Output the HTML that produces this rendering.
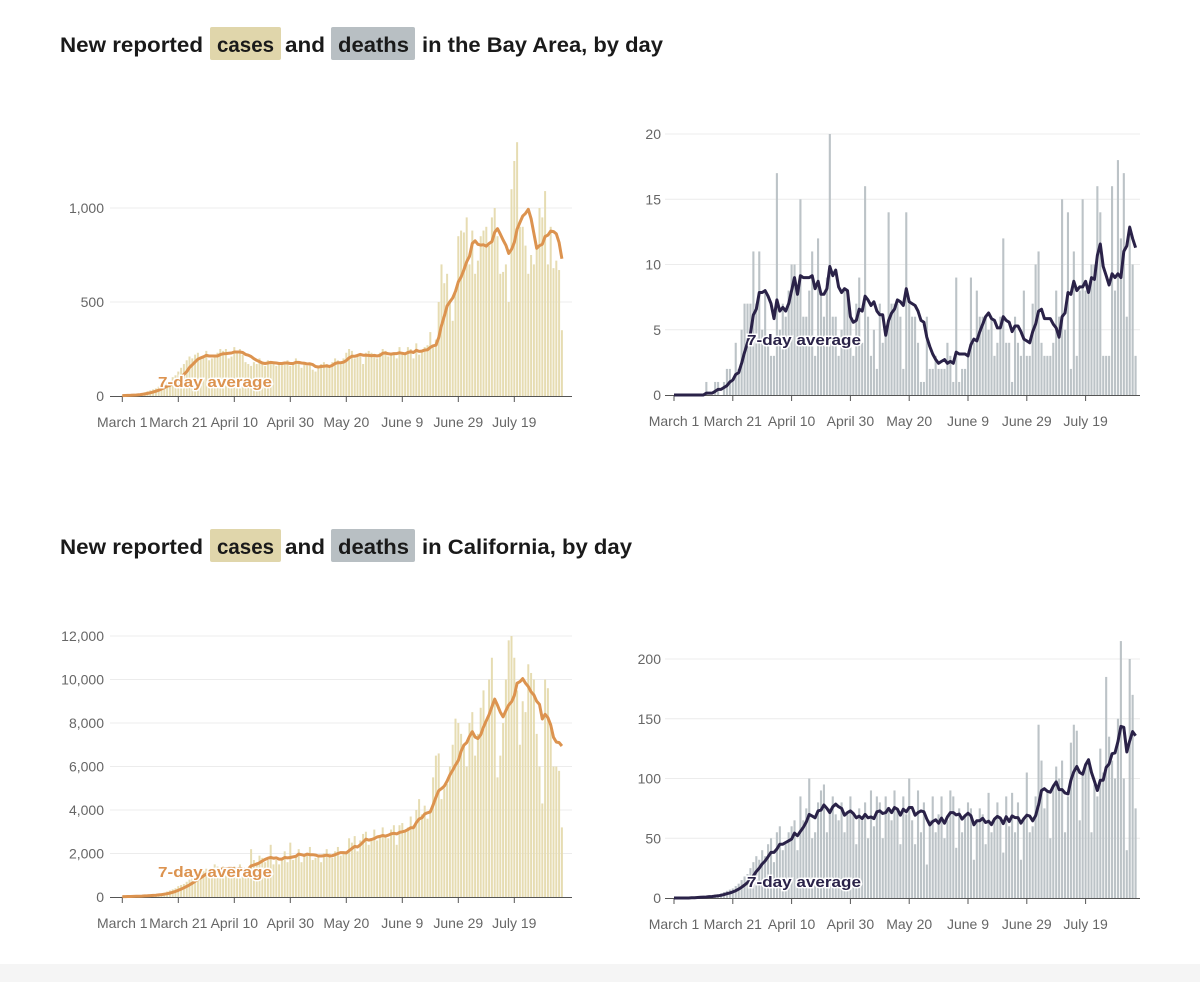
<!DOCTYPE html>
<html><head><meta charset="utf-8"><style>
body{margin:0;background:#fff;}
svg{display:block;font-family:"Liberation Sans",sans-serif;}
</style></head><body>
<svg id="chart" width="1200" height="982" viewBox="0 0 1200 982" xmlns="http://www.w3.org/2000/svg">
<rect x="0" y="964" width="1200" height="18" fill="#f5f5f5"/>
<g id="root"></g>
</svg>
<script>
const dayLabels = ["March 1","March 21","April 10","April 30","May 20","June 9","June 29","July 19"];
const dayTicks = [0,20,40,60,80,100,120,140];
const bayCases = [2,3,5,5,8,10,12,15,20,25,30,35,40,50,60,70,80,60,100,110,130,150,170,190,210,200,220,230,200,210,240,190,200,220,230,250,240,250,200,210,260,230,250,220,180,170,160,180,170,200,170,160,190,180,170,160,180,170,180,190,160,170,200,180,150,170,160,170,140,130,160,170,180,170,150,180,200,190,170,200,230,250,240,200,220,210,170,230,240,230,210,200,230,250,240,210,220,230,200,260,230,220,260,250,200,280,220,240,260,270,340,260,300,500,700,600,650,500,400,550,850,880,870,950,700,880,650,720,850,880,900,800,950,1000,850,650,660,700,500,1100,1250,1350,900,900,800,650,750,700,800,1000,950,1090,700,900,680,720,670,350];
const bayDeaths = [0,0,0,0,0,0,0,0,0,0,0,1,0,0,1,1,0,1,2,2,1,4,2,5,7,7,7,11,7,11,5,8,4,3,3,17,5,7,6,8,10,10,8,15,6,6,8,11,3,12,8,6,9,20,6,6,3,5,8,8,6,3,7,9,4,16,6,3,5,2,7,4,5,14,7,7,7,6,2,14,7,6,6,4,1,1,6,2,2,3,2,2,2,4,3,1,9,1,2,2,3,9,4,8,6,6,6,5,6,3,4,6,12,4,4,1,6,4,3,8,3,3,7,10,11,4,3,3,3,4,8,6,15,5,14,2,11,3,8,15,8,8,10,10,16,14,3,3,3,16,8,18,12,17,6,13,10,3];
const caCases = [20,20,30,30,40,50,60,60,70,80,90,100,120,140,160,200,250,300,350,400,500,550,600,700,800,900,1000,1100,1100,1200,1300,1000,1200,1500,1400,1300,1400,1300,1100,1200,1400,1300,1500,1200,1100,1300,2200,1700,1600,1900,1800,1600,1700,2400,1500,1700,1500,1800,2100,1600,2500,1700,1900,2200,1600,1900,2000,2300,1700,1800,1900,1600,2000,2200,2000,1800,2100,2300,1900,2000,2100,2700,2500,2800,2100,2600,2900,3000,2400,2700,3100,2600,2800,3200,2800,2700,3100,3300,2400,3300,3400,3000,3200,3700,3300,4000,4500,3800,4200,3600,4000,5500,6500,6600,4500,5000,5200,6000,7000,8200,8000,7500,7000,6000,8000,8500,6500,7500,8700,9500,8000,10000,11000,9000,5500,6500,8000,10000,11800,12000,11000,9500,7000,9000,8500,10700,10300,10000,7500,6000,4300,10000,9600,8000,6000,6000,5800,3200];
const caDeaths = [0,0,0,0,0,0,1,1,1,1,1,1,2,2,3,3,4,5,6,7,8,10,12,15,18,20,25,30,35,32,40,35,45,50,30,55,60,40,45,55,60,65,40,85,65,75,100,50,55,80,90,95,55,75,85,70,65,80,55,70,85,70,45,75,65,80,50,90,60,85,80,50,85,75,65,90,75,45,85,70,100,65,45,90,55,80,28,65,85,55,70,85,50,65,90,85,42,75,55,70,80,75,32,65,75,70,45,88,55,65,80,65,38,85,60,88,55,80,32,65,105,55,60,85,145,115,75,90,50,95,110,100,115,55,85,130,145,140,65,105,110,115,55,95,85,125,105,185,135,115,100,150,215,100,40,200,170,75];
const bayCaseTicks = [0,500,1000];
const bayDeathTicks = [0,5,10,15,20];
const caCaseTicks = [0,2000,4000,6000,8000,10000,12000];
const caDeathTicks = [0,50,100,150,200];

const NS="http://www.w3.org/2000/svg";
const root=document.getElementById('root');
function mk(tag,attrs,parent){const e=document.createElementNS(NS,tag);for(const k in attrs)e.setAttribute(k,attrs[k]);(parent||root).appendChild(e);return e;}
function fmt(v){return v.toLocaleString('en-US');}
function avg(a){return a.map((v,i)=>{const s=a.slice(Math.max(0,i-6),i+1);return s.reduce((p,c)=>p+c,0)/s.length;});}

function title(yOff,tail,tailEnd,nm){
  const g=mk('g',{});
  
  
  const b1=mk('rect',{x:210,y:27+yOff,width:71,height:33,rx:2,fill:'#e0d6ab'},g);
  
  
  const b2=mk('rect',{x:331,y:27+yOff,width:84,height:33,rx:2,fill:'#b8bfc3'},g);
  
  
  const parts=[["New reported",60,143],["cases",217,57],["and",285,40],["deaths",338,71],[tail,422,tailEnd-422]];
  parts.forEach(p=>{const t=mk('text',{x:p[1],y:52+yOff,'font-size':21,'font-weight':'bold',fill:'#1a1a1a',textLength:p[2],lengthAdjust:'spacingAndGlyphs'},g);t.textContent=p[0];
    
    });
}
title(0,"in the Bay Area, by day",663,'bay-area-title');
title(502,"in California, by day",632,'california-title');

function chart(cfg){
  const g=mk('g',{});
  
  
  const X=d=>cfg.x0+d*cfg.dx;
  const Y=v=>cfg.base-v*cfg.k;
  cfg.ticks.forEach(t=>{
    if(t>0){const l=mk('line',{x1:cfg.gx0,x2:cfg.gx1,y1:Y(t),y2:Y(t),stroke:'#ececec','stroke-width':1},g);
      
      }
    const tx=mk('text',{x:cfg.lx,y:Y(t)+5,'text-anchor':'end','font-size':14,fill:'#666'},g);
    tx.textContent=fmt(t);
    
    
  });
  cfg.data.forEach((v,i)=>{
    const r=mk('rect',{x:X(i)-cfg.bw/2,y:Y(v),width:cfg.bw,height:v*cfg.k,fill:cfg.bar},g);
    
    
  });
  const ax=mk('line',{x1:cfg.gx0,x2:cfg.gx1,y1:cfg.base+0.5,y2:cfg.base+0.5,stroke:'#555','stroke-width':1},g);
  
  
  dayTicks.forEach((d,i)=>{
    const tk=mk('line',{x1:X(d),x2:X(d),y1:cfg.base,y2:cfg.base+6,stroke:'#555'},g);
    
    
    const tl=mk('text',{x:X(d),y:cfg.base+31,'text-anchor':'middle','font-size':14,fill:'#666'},g);
    tl.textContent=dayLabels[i];
    
    
  });
  const a=avg(cfg.data);
  const p=mk('path',{d:a.map((v,i)=>(i?'L':'M')+X(i).toFixed(1)+','+Y(v).toFixed(1)).join(''),fill:'none',stroke:cfg.line,'stroke-width':3,'stroke-linejoin':'round'},g);
  
  
  const lb=mk('text',{x:cfg.labx,y:cfg.laby,'font-size':15,'font-weight':'bold',fill:cfg.line,stroke:'#fff','stroke-width':3,'paint-order':'stroke',textLength:114,lengthAdjust:'spacingAndGlyphs'},g);
  lb.textContent='7-day average';
  
  
}
const tan='#e6dcb2', gray='#bcc3c7', orange='#dc934f', navy='#2a2248';
chart({name:'bay-cases-chart',data:bayCases,ticks:bayCaseTicks,x0:122.3,dx:2.80,base:396,k:0.188,gx0:110,gx1:572,lx:104,bw:2,bar:tan,line:orange,labx:158,laby:387});
chart({name:'bay-deaths-chart',data:bayDeaths,ticks:bayDeathTicks,x0:674,dx:2.94,base:395,k:13.05,gx0:665,gx1:1140,lx:661,bw:2.1,bar:gray,line:navy,labx:747,laby:345});
chart({name:'ca-cases-chart',data:caCases,ticks:caCaseTicks,x0:122.3,dx:2.80,base:897,k:0.02175,gx0:110,gx1:572,lx:104,bw:2,bar:tan,line:orange,labx:158,laby:877});
chart({name:'ca-deaths-chart',data:caDeaths,ticks:caDeathTicks,x0:674,dx:2.94,base:898,k:1.195,gx0:665,gx1:1140,lx:661,bw:2.1,bar:gray,line:navy,labx:747,laby:887});
</script>
</body></html>
